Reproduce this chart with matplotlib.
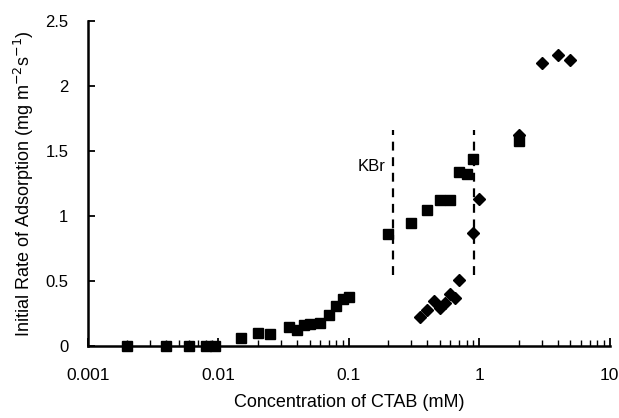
import matplotlib
matplotlib.use("Agg")
import matplotlib.pyplot as plt
from matplotlib.ticker import LogLocator, FixedLocator, FixedFormatter, NullFormatter

plt.rcParams['font.family'] = ['Liberation Sans', 'DejaVu Sans']

# CTAB alone (squares), low concentration branch
sq_low_x = [0.002, 0.004, 0.006, 0.008, 0.0095, 0.015, 0.020, 0.025, 0.035,
            0.040, 0.045, 0.050, 0.060, 0.070, 0.080, 0.090, 0.100]
sq_low_y = [0.0, 0.0, 0.0, 0.0, 0.0, 0.06, 0.10, 0.09, 0.15,
            0.12, 0.16, 0.17, 0.18, 0.24, 0.31, 0.36, 0.38]
# squares, KBr branch
sq_kbr_x = [0.2, 0.3, 0.4, 0.5, 0.6, 0.7, 0.8, 0.9, 2.0]
sq_kbr_y = [0.86, 0.95, 1.05, 1.12, 1.12, 1.34, 1.32, 1.44, 1.58]
# diamonds
dia_x = [0.35, 0.40, 0.45, 0.50, 0.55, 0.60, 0.65, 0.70, 0.90, 1.0, 2.0, 3.0, 4.0, 5.0]
dia_y = [0.22, 0.28, 0.35, 0.29, 0.33, 0.40, 0.37, 0.51, 0.87, 1.13, 1.62, 2.18, 2.24, 2.20]

kbr_lines = [0.22, 0.91]
kbr_span = [0.55, 1.66]

xticks = [0.001, 0.01, 0.1, 1, 10]
xtick_labels = ['0.001', '0.01', '0.1', '1', '10']
yticks = [0, 0.5, 1, 1.5, 2, 2.5]
ytick_labels = ['0', '0.5', '1', '1.5', '2', '2.5']

fig = plt.figure(figsize=(6.19, 4.18), dpi=100)
ax = fig.add_axes([0.142, 0.172, 0.843, 0.778])

ax.plot(sq_low_x + sq_kbr_x, sq_low_y + sq_kbr_y, 's', color='black',
        markersize=7.5, linestyle='none', clip_on=False)
ax.plot(dia_x, dia_y, 'D', color='black', markersize=5.8, linestyle='none', clip_on=False)

for xv in kbr_lines:
    ax.plot([xv, xv], kbr_span, color='black', linestyle=(0, (4, 3)), linewidth=1.6)
ax.text(0.19, 1.38, 'KBr', ha='right', va='center', fontsize=12)

ax.set_xscale('log')
ax.set_xlim(0.001, 10)
ax.set_ylim(0, 2.5)
ax.xaxis.set_major_locator(FixedLocator(xticks))
ax.xaxis.set_major_formatter(FixedFormatter(xtick_labels))
ax.xaxis.set_minor_locator(LogLocator(base=10, subs=range(2, 10)))
ax.xaxis.set_minor_formatter(NullFormatter())
ax.yaxis.set_major_locator(FixedLocator(yticks))
ax.yaxis.set_major_formatter(FixedFormatter(ytick_labels))

for s in ['top', 'right']:
    ax.spines[s].set_visible(False)
for s in ['left', 'bottom']:
    ax.spines[s].set_linewidth(1.8)

ax.tick_params(axis='x', which='major', direction='in', length=6, width=1.3, labelsize=12.5, pad=16)
ax.tick_params(axis='x', which='minor', direction='in', length=4, width=1.0)
ax.tick_params(axis='y', which='major', direction='in', length=5, width=1.3, labelsize=12, pad=14)

ax.set_xlabel('Concentration of CTAB (mM)', fontsize=13, labelpad=8)
ax.set_ylabel('Initial Rate of Adsorption (mg m$^{-2}$s$^{-1}$)', fontsize=13, labelpad=7)

fig.savefig('out.png', dpi=100)
